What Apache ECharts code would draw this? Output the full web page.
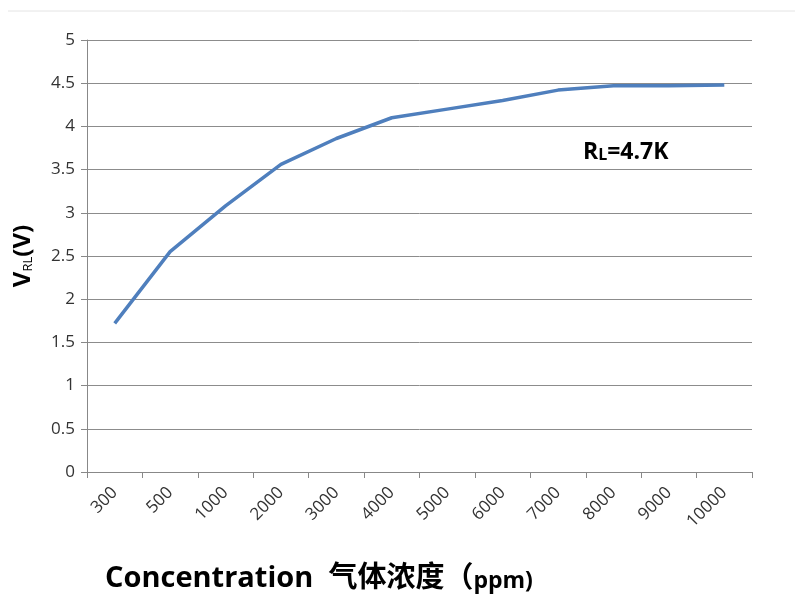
<!DOCTYPE html>
<html>
<head>
<meta charset="utf-8">
<script src="https://cdn.jsdelivr.net/npm/echarts@6/dist/echarts.min.js"></script>
<style>
	html, body { margin: 0; padding: 0; background: #fff; }
	#main { width: 795px; height: 595px; }
</style>
</head>
<body>
<div id="main"></div>
<script type="text/javascript">
	// 浓度类别 (ppm)
	var categories = ['300', '500', '1000', '2000', '3000', '4000', '5000', '6000', '7000', '8000', '9000', '10000'];
	// 负载电压 VRL (V)
	var vrlValues = [1.72, 2.55, 3.08, 3.56, 3.86, 4.1, 4.2, 4.3, 4.42, 4.47, 4.47, 4.48];
	var yTicks = { min: 0, max: 5, step: 0.5 };

	var labelFont = '"Open Sans", "Liberation Sans", sans-serif';

	var myChart = echarts.init(document.getElementById('main'));

	var option = {
		backgroundColor: '#fff',
		animation: false,
		title: {
			text: '{a|Concentration  气体浓度（}{b|ppm)}',
			left: 100,
			top: 559,
			textStyle: {
				rich: {
					a: { fontSize: 29, fontWeight: 'bold', color: '#000', fontFamily: '"Open Sans", "Noto Sans CJK SC", sans-serif' },
					b: { fontSize: 23, fontWeight: 'bold', color: '#000', fontFamily: '"Open Sans", sans-serif', padding: [6, 0, 0, 0] }
				}
			}
		},
		graphic: [
			{
				type: 'line',
				shape: { x1: 8, y1: 11, x2: 795, y2: 11 },
				style: { stroke: '#e4e4e4', lineWidth: 1 }
			},
			{
				type: 'text',
				left: 583,
				top: 141,
				style: {
					text: '{a|R}{b|L}{a|=4.7K}',
					rich: {
						a: { fontSize: 23, fontWeight: 'bold', fill: '#000', fontFamily: labelFont },
						b: { fontSize: 16, fontWeight: 'bold', fill: '#000', fontFamily: labelFont, padding: [5, 0, 0, 0] }
					}
				}
			}
		],
		grid: {
			left: 87,
			right: 43,
			top: 40,
			bottom: 123
		},
		xAxis: {
			type: 'category',
			data: categories,
			boundaryGap: true,
			axisLine: { lineStyle: { color: '#888', width: 1 } },
			axisTick: { show: true, length: 6, lineStyle: { color: '#888' } },
			axisLabel: {
				interval: 0,
				rotate: 45,
				margin: 18,
				fontSize: 17,
				color: '#333',
				fontFamily: labelFont
			},
			splitLine: { show: false }
		},
		yAxis: {
			type: 'value',
			min: yTicks.min,
			max: yTicks.max,
			interval: yTicks.step,
			name: '{a|V}{b|RL}{a|(V)}',
			nameLocation: 'middle',
			nameGap: 52,
			nameRotate: 90,
			nameTextStyle: {
				rich: {
					a: { fontSize: 24, fontWeight: 'bold', color: '#000', fontFamily: labelFont },
					b: { fontSize: 13, color: '#000', fontFamily: labelFont, padding: [10, 0, 0, 0] }
				}
			},
			axisLine: { show: true, lineStyle: { color: '#888', width: 1 } },
			axisTick: { show: true, length: 6, lineStyle: { color: '#888' } },
			axisLabel: {
				fontSize: 17,
				color: '#333',
				margin: 12,
				fontFamily: labelFont
			},
			splitLine: { lineStyle: { color: '#8c8c8c', width: 1 } }
		},
		series: [
			{
				name: 'VRL',
				type: 'line',
				data: vrlValues,
				showSymbol: false,
				symbol: 'none',
				lineStyle: { color: '#4f7fbd', width: 3.5 },
				itemStyle: { color: '#4f7fbd' }
			}
		]
	};

	myChart.setOption(option);
</script>
</body>
</html>
